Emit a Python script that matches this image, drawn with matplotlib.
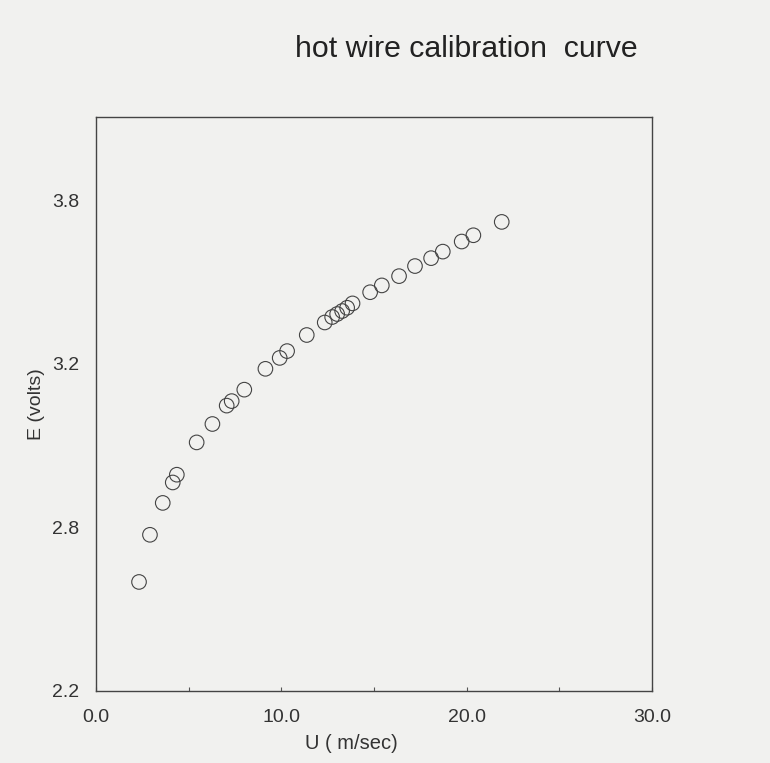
import numpy as np
import matplotlib
matplotlib.use('Agg')
import matplotlib.pyplot as plt

# velocity (m/s) and bridge voltage (V)
U = [2.32, 2.91, 3.60, 4.14, 4.36, 5.43, 6.28, 7.05, 7.32, 8.00,
     9.14, 9.91, 10.31, 11.37, 12.34, 12.74, 13.01, 13.28, 13.55, 13.84,
     14.79, 15.42, 16.35, 17.21, 18.08, 18.71, 19.73, 20.36, 21.89]
E = [2.600, 2.773, 2.860, 2.910, 2.929, 3.008, 3.053, 3.098, 3.109, 3.137,
     3.188, 3.222, 3.247, 3.306, 3.352, 3.372, 3.383, 3.394, 3.406, 3.422,
     3.463, 3.488, 3.522, 3.559, 3.588, 3.612, 3.649, 3.672, 3.721]

x_ticks = [0.0, 10.0, 20.0, 30.0]
y_ticks = [2.2, 2.8, 3.2, 3.8]   # evenly spaced on the paper, uneven in value

# piecewise linear scale so the hand-labelled ticks sit evenly apart
yk = np.array(y_ticks + [4.4])
pk = np.arange(len(yk), dtype=float)

def fwd(v):
    return np.interp(v, yk, pk)

def inv(p):
    return np.interp(p, pk, yk)

plt.rcParams['font.family'] = ['Liberation Sans', 'DejaVu Sans']
bg = '#f1f1ef'

fig = plt.figure(figsize=(7.70, 7.63), dpi=100, facecolor=bg)
ax = fig.add_axes([0.1247, 0.0944, 0.7221, 0.7523])
ax.set_facecolor(bg)

ax.set_yscale('function', functions=(fwd, inv))
ax.scatter(U, E, s=110, facecolors='none', edgecolors='#444444', linewidths=0.8)

ax.set_xlim(0, 30)
ax.set_ylim(2.2, 3.8 + 0.51 * 0.6)
ax.set_xticks(x_ticks)
ax.set_xticklabels(['%.1f' % v for v in x_ticks])
ax.set_xticks([5, 15, 25], minor=True)
ax.set_yticks(y_ticks)
ax.set_yticklabels(['%.1f' % v for v in y_ticks])
ax.yaxis.set_minor_locator(matplotlib.ticker.NullLocator())
ax.tick_params(axis='x', which='both', direction='in', length=3, width=0.8,
               color='#555555', pad=13, labelsize=14, labelcolor='#333333')
ax.tick_params(axis='y', length=0, pad=12, labelsize=14, labelcolor='#333333')

for s in ax.spines.values():
    s.set_color('#444444')
    s.set_linewidth(1.0)

ax.set_xlabel('U ( m/sec)', fontsize=14.5, color='#333333', labelpad=6, x=0.46)
ax.set_ylabel('E (volts)', fontsize=14, color='#333333', labelpad=5)

fig.text(0.605, 0.936, 'hot wire calibration  curve', fontsize=21.8,
         color='#222222', ha='center', va='center')

fig.savefig('out.png', dpi=100, facecolor=bg)
